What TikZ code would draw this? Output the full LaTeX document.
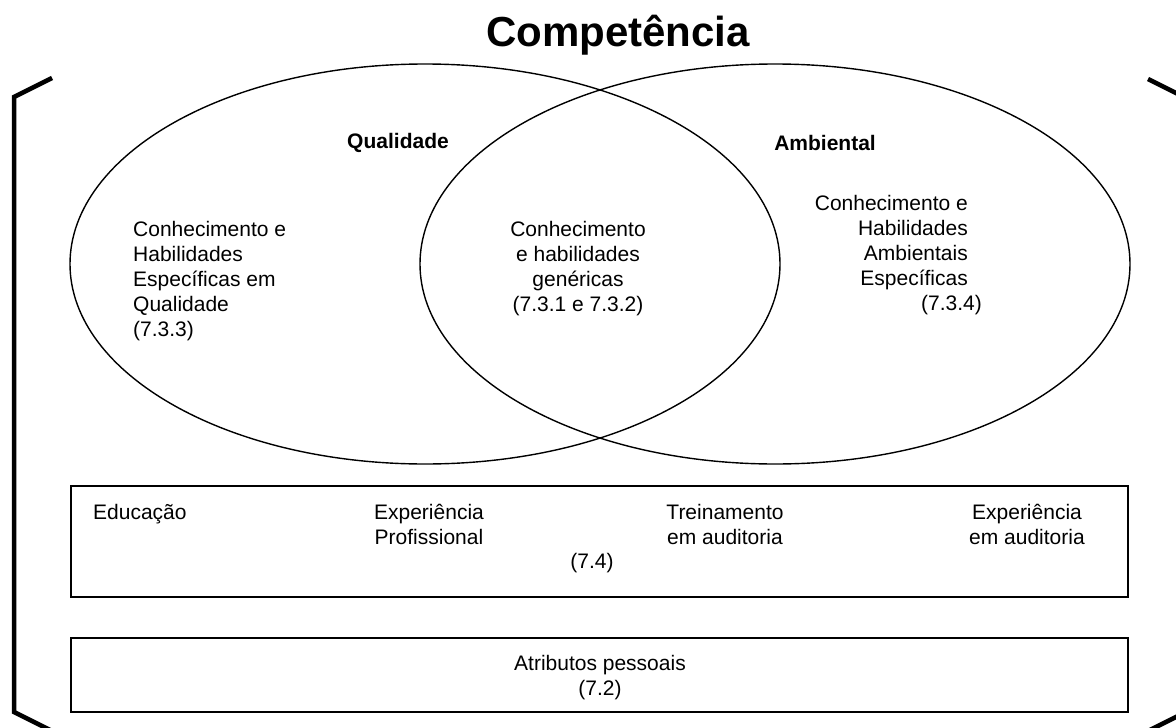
\documentclass[tikz,border=0pt]{standalone}
\usepackage{fontspec}
\setmainfont{Liberation Sans}
\usetikzlibrary{positioning,calc}
\tikzset{
	titel/.style={font=\fontsize{42}{48}\selectfont\bfseries},
	lab/.style={font=\fontsize{21}{25}\selectfont\bfseries},
	txt/.style={font=\fontsize{21}{25}\selectfont, inner sep=0pt},
	panel/.style={draw, line width=1.4pt, minimum width=1057pt, inner sep=0pt},
	circ/.style={line width=1.4pt},
	brace/.style={line width=4.5pt, line join=miter},
}

\begin{document}
\begin{tikzpicture}[x=1pt,y=-1pt]
		\clip (0,0) rectangle (1176,728);
		\useasboundingbox (0,0) rectangle (1176,728);
		
		% ------------------- Titel + Klammer -------------------
		\node[titel] (titel) at (618,35) {Competência};
		\draw[brace] (52,78) -- (14,97) -- (14,712) -- (52,731);
		\draw[brace] (1148,79) -- (1186,98) -- (1186,712) -- (1148,731);
		
		% ------------------- Ellipsen -------------------
		\draw[circ] (425,264) ellipse [x radius=355pt, y radius=200pt];
		\draw[circ] (775,264) ellipse [x radius=355pt, y radius=200pt];
		
		\node[lab] (labQ) at (398,143) {Qualidade};
		\node[lab] (labA) at (825,143) {Ambiental};
		
		\node[txt, align=left, anchor=north west] (tQ) at (133,221)
		{Conhecimento e\\Habilidades\\Específicas em\\Qualidade\\(7.3.3)};
		\node[txt, align=center, anchor=north] (tG) at (578,221)
		{Conhecimento\\e habilidades\\genéricas\\(7.3.1 e 7.3.2)};
		\node[txt, align=right, anchor=north east] (tA) at (968,195)
		{Conhecimento e\\Habilidades\\Ambientais\\Específicas\\(7.3.4)\hspace*{-14pt}};
		
		% ------------------- Formacao (7.4) -------------------
		\node[panel, minimum height=111pt] (boxF) at (599.5,541.5) {};
		\node[txt, anchor=north west] (tEdu) at (93,504) {Educação};
		\node[txt, align=center, anchor=north] (tExp) at (429,504) {Experiência\\Profissional};
		\node[txt, align=center, anchor=north] (tTre) at (725,504) {Treinamento\\em auditoria};
		\node[txt, align=center, anchor=north] (tAud) at (1027,504) {Experiência\\em auditoria};
		\node[txt] (t74) at (592,563) {(7.4)};
		
		% ------------------- Atributos (7.2) -------------------
		\node[panel, minimum height=74pt] (boxP) at (599.5,675) {};
		\node[txt, align=center, anchor=north] (tAtr) at (600,655) {Atributos pessoais\\(7.2)};
		
	\end{tikzpicture}
\end{document}
